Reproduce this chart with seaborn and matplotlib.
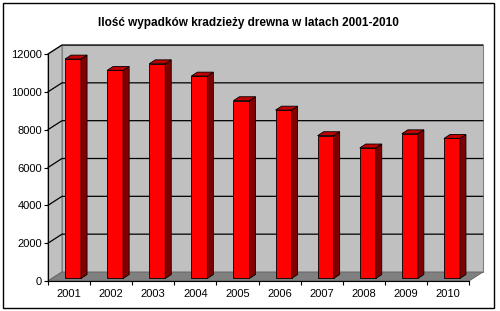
import matplotlib
matplotlib.use("Agg")
import matplotlib.pyplot as plt
import seaborn as sns
import numpy as np
import pandas as pd
from matplotlib.patches import Polygon, Rectangle

# ---- data ----
years = ["2001", "2002", "2003", "2004", "2005", "2006", "2007", "2008", "2009", "2010"]
values = [11600, 11000, 11350, 10700, 9400, 8900, 7550, 6900, 7650, 7400]
yticks = [0, 2000, 4000, 6000, 8000, 10000, 12000]
title = "Ilość wypadków kradzieży drewna w latach 2001-2010"

sns.set_style("white")
plt.rcParams['font.family'] = ['Liberation Sans', 'DejaVu Sans']

W, H = 500, 311
fig = plt.figure(figsize=(W / 100, H / 100), dpi=100)
fig.patch.set_facecolor("white")

# front axes box in pixels
L, R, T, B = 48, 469, 54, 281
ax = fig.add_axes([L / W, (H - B) / H, (R - L) / W, (B - T) / H])
ax.patch.set_visible(False)

df = pd.DataFrame({"year": years, "value": values})
sns.barplot(data=df, x="year", y="value", color="#FF0000", saturation=1,
            width=0.38, edgecolor="black", linewidth=0.6, ax=ax, zorder=3)
bars = list(ax.patches)

ymax = 12000
ax.set_xlim(-0.5, len(years) - 0.5)
ax.set_ylim(0, ymax)
ax.set_xlabel("")
ax.set_ylabel("")

pxx = (R - L) / len(years)
pxy = (B - T) / ymax
DX, DY = 14 / pxx, 9 / pxy          # floor/wall depth
BDX, BDY = 6 / pxx, 3.9 / pxy       # bar depth
OX, OY = (DX - BDX) / 2, (DY - BDY) / 2

x0, x1 = -0.5, len(years) - 0.5
# back wall
ax.add_patch(Rectangle((x0 + DX, DY), x1 - x0, ymax, facecolor="#C0C0C0",
                       edgecolor="#808080", lw=0.8, zorder=0, clip_on=False))
# left wall
ax.add_patch(Polygon([(x0, 0), (x0, ymax), (x0 + DX, ymax + DY), (x0 + DX, DY)],
                     closed=True, facecolor="#C0C0C0", edgecolor="#808080",
                     lw=0.8, zorder=0, clip_on=False))
# floor
ax.add_patch(Polygon([(x0, 0), (x1, 0), (x1 + DX, DY), (x0 + DX, DY)],
                     closed=True, facecolor="#808080", edgecolor="#606060",
                     lw=0.6, zorder=0.5, clip_on=False))
# gridlines
for v in yticks[1:]:
    ax.plot([x0, x0 + DX, x1 + DX], [v, v + DY, v + DY], color="black",
            lw=0.9, zorder=1, clip_on=False)

# 3D bars
for p in bars:
    bx, bw, bh = p.get_x(), p.get_width(), p.get_height()
    p.set_x(bx + OX)
    p.set_y(OY)
    fx0, fx1 = bx + OX, bx + OX + bw
    top = OY + bh
    ax.add_patch(Polygon([(fx1, OY), (fx1, top), (fx1 + BDX, top + BDY), (fx1 + BDX, OY + BDY)],
                         closed=True, facecolor="#800000", edgecolor="black",
                         lw=0.6, zorder=3, clip_on=False))
    ax.add_patch(Polygon([(fx0, top), (fx1, top), (fx1 + BDX, top + BDY), (fx0 + BDX, top + BDY)],
                         closed=True, facecolor="#C00000", edgecolor="black",
                         lw=0.6, zorder=3, clip_on=False))

# axes styling
for s in ["top", "right"]:
    ax.spines[s].set_visible(False)
for s in ["left", "bottom"]:
    ax.spines[s].set_color("black")
    ax.spines[s].set_linewidth(0.8)

ax.set_yticks(yticks)
ax.set_yticklabels([str(v) for v in yticks])
ax.tick_params(axis="y", direction="out", length=3, width=0.8, pad=1.5,
               labelsize=8, colors="black", left=True)
ax.set_xticks(range(len(years)))
ax.set_xticklabels(years)
ax.set_xticks(np.arange(-0.5, len(years), 1), minor=True)
ax.tick_params(axis="x", which="major", length=0, pad=5.5, labelsize=8, colors="black")
ax.tick_params(axis="x", which="minor", direction="out", length=3, width=0.8,
               colors="black", bottom=True)

fig.text(248 / W, 1 - 23 / H, title, ha="center", va="center",
         fontsize=8.5, fontweight="bold", color="black")

# outer chart border
fig.patches.append(Rectangle((2.5 / W, 1 - 307.5 / H), 491 / W, 305 / H,
                             transform=fig.transFigure, fill=False,
                             edgecolor="black", lw=1))

fig.savefig("out.png", dpi=100)
